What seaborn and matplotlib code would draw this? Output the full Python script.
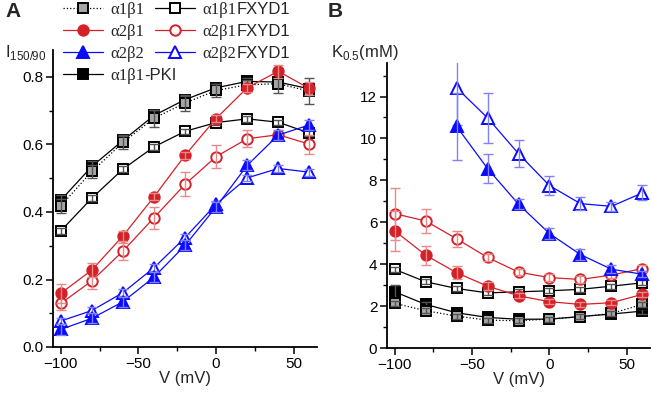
import numpy as np
import pandas as pd
import seaborn as sns
import matplotlib.pyplot as plt
from matplotlib.ticker import MultipleLocator

V = [-100, -80, -60, -40, -20, 0, 20, 40, 60]
V_b22 = [-60, -40, -20, 0, 20, 40, 60]

# panel A: I150/90
a_a1b1 = [0.418, 0.520, 0.606, 0.678, 0.723, 0.760, 0.777, 0.780, 0.758]
a_a1b1_err = [0.02, 0.02, 0.02, 0.025, 0.025, 0.02, 0.015, 0.028, 0.038]
a_a1b1F = [0.344, 0.441, 0.527, 0.593, 0.639, 0.665, 0.676, 0.666, 0.634]
a_a1b1F_err = [0.008] * 9
a_a2b1 = [0.159, 0.228, 0.329, 0.445, 0.568, 0.677, 0.768, 0.817, 0.766]
a_a2b1_err = [0.028, 0.02, 0.015, 0.01, 0.01, 0.01, 0.012, 0.02, 0.02]
a_a2b1F = [0.129, 0.196, 0.284, 0.383, 0.482, 0.564, 0.617, 0.629, 0.601]
a_a2b1F_err = [0.02, 0.025, 0.025, 0.032, 0.036, 0.034, 0.025, 0.015, 0.028]
a_a2b2 = [0.052, 0.085, 0.134, 0.207, 0.301, 0.415, 0.538, 0.628, 0.658]
a_a2b2_err = [0.015] * 9
a_a2b2F = [0.077, 0.108, 0.161, 0.235, 0.324, 0.423, 0.501, 0.529, 0.518]
a_a2b2F_err = [0.01] * 9
a_pki = [0.435, 0.535, 0.612, 0.686, 0.733, 0.768, 0.787, 0.785, 0.765]
a_pki_err = [0.015, 0.015, 0.015, 0.015, 0.01, 0.01, 0.01, 0.01, 0.01]

# panel B: K0.5 (mM)
b_a1b1 = [2.13, 1.78, 1.52, 1.33, 1.30, 1.38, 1.49, 1.65, 2.08]
b_a1b1_err = [0.12] * 9
b_a1b1F = [3.75, 3.16, 2.84, 2.63, 2.68, 2.73, 2.80, 2.95, 3.11]
b_a1b1F_err = [0.12] * 9
b_a2b1 = [5.59, 4.43, 3.59, 2.95, 2.49, 2.21, 2.08, 2.16, 2.56]
b_a2b1_err = [0.95, 0.45, 0.32, 0.2, 0.12, 0.12, 0.12, 0.12, 0.12]
b_a2b1F = [6.41, 6.06, 5.21, 4.32, 3.62, 3.36, 3.27, 3.48, 3.79]
b_a2b1F_err = [1.24, 0.56, 0.38, 0.15, 0.15, 0.15, 0.15, 0.15, 0.15]
b_a2b2 = [10.57, 8.56, 6.86, 5.46, 4.46, 3.76, 3.52]
b_a2b2_err = [1.6, 0.68, 0.25, 0.25, 0.25, 0.2, 0.15]
b_a2b2F = [12.41, 10.98, 9.27, 7.75, 6.89, 6.76, 7.40]
b_a2b2F_err = [1.75, 1.2, 0.65, 0.45, 0.3, 0.2, 0.36]
b_pki = [2.68, 2.08, 1.68, 1.46, 1.37, 1.38, 1.50, 1.62, 1.76]
b_pki_err = [0.35, 0.12, 0.12, 0.12, 0.12, 0.12, 0.12, 0.12, 0.12]

sns.set_theme(style="ticks")
plt.rcParams['font.family'] = ['Liberation Sans', 'DejaVu Sans']
plt.rcParams['mathtext.fontset'] = 'custom'
plt.rcParams['mathtext.rm'] = 'Liberation Sans'

RED = '#d42027'
BLUE = '#0a0aff'
GRAY = '#a6a6a6'

# series names: greek part in serif, suffix in sans (as in the original figure)
names = ['α1β1', 'α2β1', 'α2β2', 'α1β1-PKI', 'α1β1FXYD1', 'α2β1FXYD1', 'α2β2FXYD1']

# name: (marker, facecolor, edgecolor, linestyle, markersize, errcolor)
styles = {
    'α1β1': ('s', GRAY, 'black', ':', 6.5, '#555555'),
    'α2β1': ('o', RED, RED, '-', 7.5, '#e88a8a'),
    'α2β2': ('^', BLUE, BLUE, '-', 8.5, '#8080ff'),
    'α1β1-PKI': ('s', 'black', 'black', '-', 6.5, '#555555'),
    'α1β1FXYD1': ('s', 'white', 'black', '-', 6.5, '#555555'),
    'α2β1FXYD1': ('o', 'white', RED, '-', 7.5, '#e88a8a'),
    'α2β2FXYD1': ('^', 'white', BLUE, '-', 8.5, '#8080ff'),
}

dataA = {
    'α1β1FXYD1': (V, a_a1b1F, a_a1b1F_err),
    'α1β1-PKI': (V, a_pki, a_pki_err),
    'α1β1': (V, a_a1b1, a_a1b1_err),
    'α2β1FXYD1': (V, a_a2b1F, a_a2b1F_err),
    'α2β1': (V, a_a2b1, a_a2b1_err),
    'α2β2FXYD1': (V, a_a2b2F, a_a2b2F_err),
    'α2β2': (V, a_a2b2, a_a2b2_err),
}
dataB = {
    'α1β1FXYD1': (V, b_a1b1F, b_a1b1F_err),
    'α1β1-PKI': (V, b_pki, b_pki_err),
    'α1β1': (V, b_a1b1, b_a1b1_err),
    'α2β1FXYD1': (V, b_a2b1F, b_a2b1F_err),
    'α2β1': (V, b_a2b1, b_a2b1_err),
    'α2β2FXYD1': (V_b22, b_a2b2F, b_a2b2F_err),
    'α2β2': (V_b22, b_a2b2, b_a2b2_err),
}

fig = plt.figure(figsize=(6.52, 4.0), dpi=100)
axA = fig.add_axes([0.0813, 0.1325, 0.405, 0.7425])
axB = fig.add_axes([0.5936, 0.13, 0.4034, 0.7125])


def draw(ax, data):
    z = 2
    for name, (x, y, e) in data.items():
        m, fc, ec, ls, ms, erc = styles[name]
        df = pd.DataFrame({'V': x, 'y': y})
        sns.lineplot(data=df, x='V', y='y', ax=ax, color=ec, linestyle=ls, lw=0.9,
                     marker=m, markersize=ms, markerfacecolor=fc, markeredgecolor=ec,
                     markeredgewidth=1.4, label=name, zorder=z, legend=False)
        ax.errorbar(x, y, yerr=e, fmt='none', ecolor=erc, elinewidth=1.0,
                    capsize=3.5, capthick=1.0, zorder=z + 0.5)
        z += 1
    ax.set_xlim(-105, 65)
    ax.xaxis.set_major_locator(MultipleLocator(50))
    ax.xaxis.set_minor_locator(MultipleLocator(25))
    ax.set_xlabel('V (mV)', fontsize=12, labelpad=0)
    ax.set_ylabel('')
    sns.despine(ax=ax)
    for s in ['left', 'bottom']:
        ax.spines[s].set_linewidth(1.3)
        ax.spines[s].set_color('black')
    ax.tick_params(which='major', length=5, width=1.1, labelsize=11, colors='black', pad=2)
    ax.tick_params(which='minor', length=3, width=1.0, colors='black')


draw(axA, dataA)
axA.set_ylim(0, 0.88)
axA.yaxis.set_major_locator(MultipleLocator(0.2))
axA.yaxis.set_minor_locator(MultipleLocator(0.1))
axA.yaxis.set_major_formatter(lambda v, p: f'{v:.1f}')

draw(axB, dataB)
axB.set_ylim(0, 13.6)
axB.yaxis.set_major_locator(MultipleLocator(2))
axB.yaxis.set_minor_locator(MultipleLocator(1))

handles, labels = axA.get_legend_handles_labels()
lookup = dict(zip(labels, handles))
leg_kw = dict(loc='upper left', frameon=False, handlelength=2.4,
              handletextpad=0.45, labelspacing=0.35, borderaxespad=0, borderpad=0,
              prop={'family': 'Liberation Serif', 'size': 12})
legs = [
    fig.legend([lookup[k] for k in names[:4]], [k[:4] for k in names[:4]],
               bbox_to_anchor=(63 / 652, 0.995), **leg_kw),
    fig.legend([lookup[k] for k in names[4:]], [k[:4] for k in names[4:]],
               bbox_to_anchor=(155 / 652, 0.995), **leg_kw),
]

# append the sans-serif suffixes right after the serif greek labels
fig.canvas.draw()
W, H = fig.bbox.width, fig.bbox.height
for leg, group in zip(legs, [names[:4], names[4:]]):
    for t, full in zip(leg.get_texts(), group):
        suffix = full[4:]
        if not suffix:
            continue
        bb = t.get_window_extent()
        _, yb = t.get_transform().transform(t.get_position())
        fig.text(bb.x1 / W, yb / H, suffix, fontsize=12, va='baseline', ha='left',
                 family='Liberation Sans')

fig.text(0.008, 0.995, 'A', fontsize=15, fontweight='bold', va='top')
fig.text(0.502, 0.995, 'B', fontsize=15, fontweight='bold', va='top')
fig.text(0.008, 0.87, r'I$_{150/90}$', fontsize=12, va='center')
fig.text(0.508, 0.87, r'K$_{0.5}$(mM)', fontsize=12, va='center')

fig.savefig('out.png', dpi=100)
